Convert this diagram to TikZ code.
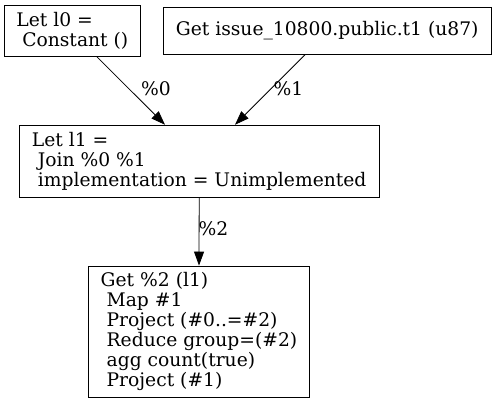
\documentclass[tikz,border=0pt]{standalone}
\usepackage{fontspec}
\setmainfont{DejaVu Serif}
\usetikzlibrary{arrows.meta}
\begin{document}
\begin{tikzpicture}[x=1pt,y=-1pt,
  box/.style={draw, line width=0.8pt, rectangle, inner xsep=12pt, inner ysep=0pt, align=left, font=\fontsize{18.7}{20}\selectfont},
  cbox/.style={draw, line width=0.8pt, rectangle, inner sep=0pt, align=center, font=\fontsize{18.7}{20}\selectfont},
  conn/.style={line width=0.8pt, -{Triangle[length=14pt,width=10pt]}},
  lbl/.style={font=\fontsize{18.7}{20}\selectfont, inner sep=0pt}]
\useasboundingbox (0,0) rectangle (496,403);
\node[box, minimum width=135pt, minimum height=51pt] (A) at (72.3,31) {Let l0 =\\\ Constant ()};
\node[cbox, minimum width=327.5pt, minimum height=47pt] (B) at (327.2,30.8) {Get issue\_10800.public.t1 (u87)};
\node[box, minimum width=359.5pt, minimum height=72.5pt] (C) at (199.2,161.4) {Let l1 =\\\ Join \%0 \%1\\\ implementation = Unimplemented};
\node[box, minimum width=219pt, minimum height=131pt] (D) at (199,331.5) {Get \%2 (l1)\\\ Map \#1\\\ Project (\#0..=\#2)\\\ Reduce group=(\#2)\\\ agg count(true)\\\ Project (\#1)};
\draw[conn] ([xshift=24.7pt]A.south) -- ([xshift=-34.2pt]C.north);
\draw[conn] ([xshift=-22.2pt]B.south) -- ([xshift=35.8pt]C.north);
\draw[conn] (C.south) -- (D.north);
\node[lbl] (l0) at (156,89) {\%0};
\node[lbl] (l1) at (288.5,89) {\%1};
\node[lbl] (l2) at (213.5,229) {\%2};
\end{tikzpicture}
\end{document}
